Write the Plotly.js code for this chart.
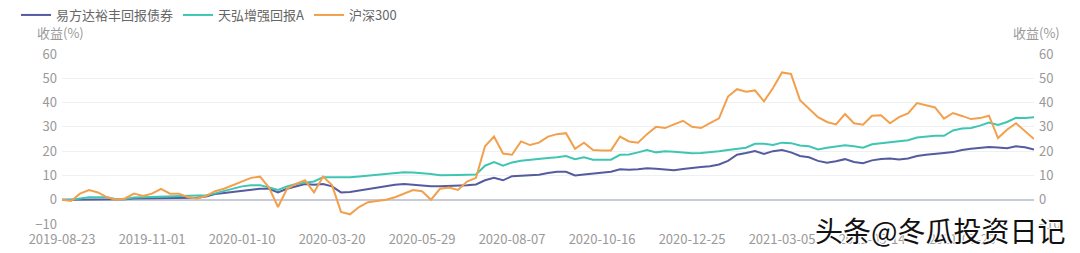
<!DOCTYPE html>
<html><head><meta charset="utf-8">
<script src="https://cdn.plot.ly/plotly-3.0.1.min.js"></script>
<style>html,body{margin:0;padding:0;background:#fff;}#chart{width:1080px;height:253px;}</style>
</head><body><div id="chart"></div>
<script>
const dates = ["2019-08-23","2019-08-30","2019-09-06","2019-09-13","2019-09-20","2019-09-27","2019-10-04","2019-10-11","2019-10-18","2019-10-25",
"2019-11-01","2019-11-08","2019-11-15","2019-11-22","2019-11-29","2019-12-06","2019-12-13","2019-12-20","2019-12-27","2020-01-03",
"2020-01-10","2020-01-17","2020-01-24","2020-01-31","2020-02-07","2020-02-14","2020-02-21","2020-02-28","2020-03-06","2020-03-13",
"2020-03-20","2020-03-27","2020-04-03","2020-04-10","2020-04-17","2020-04-24","2020-05-01","2020-05-08","2020-05-15","2020-05-22",
"2020-05-29","2020-06-05","2020-06-12","2020-06-19","2020-06-26","2020-07-03","2020-07-10","2020-07-17","2020-07-24","2020-07-31",
"2020-08-07","2020-08-14","2020-08-21","2020-08-28","2020-09-04","2020-09-11","2020-09-18","2020-09-25","2020-10-02","2020-10-09",
"2020-10-16","2020-10-23","2020-10-30","2020-11-06","2020-11-13","2020-11-20","2020-11-27","2020-12-04","2020-12-11","2020-12-18",
"2020-12-25","2021-01-01","2021-01-08","2021-01-15","2021-01-22","2021-01-29","2021-02-05","2021-02-12","2021-02-19","2021-02-26",
"2021-03-05","2021-03-12","2021-03-19","2021-03-26","2021-04-02","2021-04-09","2021-04-16","2021-04-23","2021-04-30","2021-05-07",
"2021-05-14","2021-05-21","2021-05-28","2021-06-04","2021-06-11","2021-06-18","2021-06-25","2021-07-02","2021-07-09","2021-07-16",
"2021-07-23","2021-07-30","2021-08-06","2021-08-13","2021-08-20","2021-08-27","2021-09-03","2021-09-10","2021-09-17"];

const seriesNames = ["易方达裕丰回报债券", "天弘增强回报A", "沪深300"];

const yifangda = [0,0,0.1,0.2,0.2,0.2,0.2,0.2,0.5,0.5,
0.5,0.7,0.8,0.5,0.5,0.8,1.3,2.3,2.8,3.2,
3.5,4.2,4.5,4.5,3,4.5,5.5,6.5,6.2,6.5,
5.5,3,3.2,3.8,4.5,5,5.7,6.2,6.5,6.2,
5.7,5.5,5.5,5.6,5.8,6,6.3,8,9,8,
9.7,10,10.2,10.3,11,11.5,11.5,10,10.4,10.7,
11,11.5,12.5,12.3,12.5,13,12.7,12.4,12.1,12.6,
13.2,13.5,13.8,14.5,16,18.5,19.2,20,18.8,20,
20.5,19.5,18,17.5,16,15.2,15.8,16.7,15.5,15,
16.2,16.8,17,16.6,17,18,18.5,19,19.2,19.6,
20.5,21,21.2,21.7,21.5,21.2,22,21.6,20.7];

const tianhong = [0,0,0.5,1,1,1,0.2,0.3,0.9,1,
1,1.1,1.3,1.5,1.5,1.5,1.8,2.6,3.5,4.4,
5.5,6,6,5,4,5.5,6.5,7,7.5,9.3,
9.3,9.2,9.3,9.6,10,10.2,10.8,11,11.3,11.2,
11,10.6,10.1,10,10.2,10.3,10.4,14,15.5,14,
15.3,16,16.5,17,17.2,17.5,18,16.7,17.5,16.5,
16.5,16.5,18.5,18.6,19.5,20.5,19.5,20,19.7,19.4,
19.1,19.2,19.5,20,20.5,21,21.4,23,23,22.5,
23.5,23.3,22.3,22,20.7,21.4,21.8,22.4,22,21.4,
22.8,23.2,23.5,24,24.5,25.6,26.1,26.3,26.3,28.5,
29.3,29.5,30.5,31.8,30.8,32,33.7,33.6,34];

const hs300 = [0,-0.5,2.5,4,3,1,0,0.5,2.5,1.5,
2.5,4.5,2.5,2.5,1,0.5,1.5,3.5,4.5,6,
7.5,9,9.5,5,-3,4.5,6.5,8,3,9.5,
6,-5,-6,-3,-1,-0.5,0,1,2.5,4,
3.5,0,4.5,5,4,7.5,9,22,26,19,
18.5,24,22.5,23.5,26,27,27.4,21,23.5,20.5,
20.3,20.3,26,24,23.5,27,30,29.5,31,32.5,
30,29.5,31.5,33.5,42.5,45.5,44.5,45,40.5,46,
52.4,51.8,41,37.5,34,32,31,35.3,31.5,30.9,
34.6,34.8,31.5,34,35.5,39.8,39,38,33.4,35.7,
34.5,33.2,33.6,34.6,25.4,28.8,31.5,28.4,25];

const tickDates = ["2019-08-23","2019-11-01","2020-01-10","2020-03-20","2020-05-29","2020-08-07","2020-10-16","2020-12-25","2021-03-05","2021-05-14","2021-07-23"];
const yTicks = [-10,0,10,20,30,40,50,60];
const colors = ["#555b9e", "#3fc6b2", "#f2a04c"];

const traces = [
  {x: dates, y: yifangda, name: seriesNames[0], type: "scatter", mode: "lines", line: {color: colors[0], width: 2}},
  {x: dates, y: tianhong, name: seriesNames[1], type: "scatter", mode: "lines", line: {color: colors[1], width: 2}},
  {x: dates, y: hs300, name: seriesNames[2], type: "scatter", mode: "lines", line: {color: colors[2], width: 2}},
  {x: dates, y: hs300, yaxis: "y2", type: "scatter", mode: "lines", showlegend: false, hoverinfo: "skip", line: {color: "rgba(0,0,0,0)", width: 0}}
];

const font = "Noto Sans CJK SC, Noto Sans, sans-serif";
const layout = {
  width: 1080, height: 253,
  margin: {l: 62, r: 46, t: 54, b: 29},
  paper_bgcolor: "#fff", plot_bgcolor: "#fff",
  font: {family: font, size: 13, color: "#999"},
  showlegend: true,
  legend: {orientation: "h", xref: "container", yref: "container", x: 16/1080, y: 1, yanchor: "top", xanchor: "left",
           font: {size: 13, color: "#666", family: font}, bgcolor: "rgba(0,0,0,0)"},
  xaxis: {type: "date", range: ["2019-08-23", "2021-09-17"], tickvals: tickDates, ticktext: tickDates,
          showgrid: false, zeroline: false, showline: false, ticks: "", tickfont: {size: 13, color: "#999"}, ticklabelstandoff: 6},
  yaxis: {range: [-10, 60], tickvals: yTicks, showgrid: true, gridcolor: "#eef0f3", gridwidth: 1,
          zeroline: true, zerolinecolor: "#c8cbd8", zerolinewidth: 2, showline: false, ticks: "",
          tickfont: {size: 13, color: "#999"}, ticklabelstandoff: 4},
  yaxis2: {range: [-10, 60], tickvals: yTicks, overlaying: "y", side: "right", showgrid: false, zeroline: false,
           showline: false, ticks: "", tickfont: {size: 13, color: "#999"}, ticklabelstandoff: 4},
  annotations: [
    {text: "收益(%)", xref: "paper", yref: "paper", x: 0, y: 1, xshift: -2, yshift: 22, xanchor: "center", yanchor: "middle", showarrow: false, font: {size: 13, color: "#999", family: font}},
    {text: "收益(%)", xref: "paper", yref: "paper", x: 1, y: 1, xshift: 2, yshift: 22, xanchor: "center", yanchor: "middle", showarrow: false, font: {size: 13, color: "#999", family: font}},
    {text: "头条@冬瓜投资日记", xref: "paper", yref: "paper", x: 1, y: 0, xshift: 34, yshift: -6, xanchor: "right", yanchor: "middle", showarrow: false,
     font: {size: 28, color: "#111", family: font, shadow: "1px 1px 1px #fff, -1px -1px 1px #fff, 1px -1px 1px #fff, -1px 1px 1px #fff"}}
  ]
};

Plotly.newPlot("chart", traces, layout, {displayModeBar: false, staticPlot: true});
</script>
</body></html>
